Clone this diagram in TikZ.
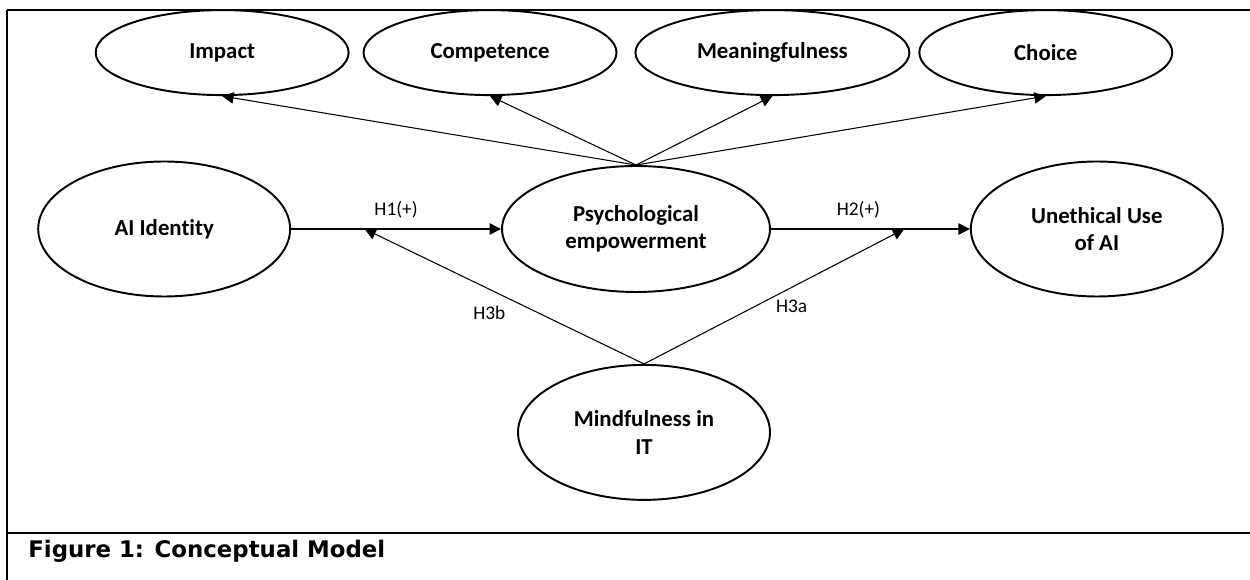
\documentclass[tikz,border=0pt]{standalone}
\usepackage{fontspec}
\setmainfont{Carlito}[Ligatures=NoCommon]
\newfontfamily\figcapfont{DejaVu Sans}
\usetikzlibrary{positioning,shapes.geometric,arrows.meta}

\begin{document}
\begin{tikzpicture}[x=0.02cm, y=-0.02cm,
        construct/.style={draw, ellipse, line width=1.1pt, inner sep=0pt, align=center,
            font=\bfseries\fontsize{13}{15.5}\selectfont, minimum width=5.04cm, minimum height=2.7cm},
        dimension/.style={construct, minimum width=5.06cm, minimum height=1.7cm},
        link/.style={->, line width=0.6pt},
        hyp/.style={font=\fontsize{11}{13}\selectfont, inner sep=0pt},
        >={Triangle[length=6.5pt,width=6.5pt]}]
        \useasboundingbox (0,0) rectangle (1250,580);

        % frame
        \draw[line width=1.1pt] (7,10) -- (7,580);
        \draw[line width=1.6pt] (7,10) -- (1250,10);
        \draw[line width=1.6pt] (7,533) -- (1250,533);

        \node[construct, minimum width=5.36cm, minimum height=2.52cm] (pe) at (636,229) {Psychological\\empowerment};
        \node[construct, left=4.2cm of pe] (ai) {AI Identity};
        \node[construct, right=3.98cm of pe] (ue) {Unethical Use\\of AI};
        \node[construct, below=1.42cm of pe, xshift=0.16cm] (mi) {Mindfulness in\\IT};

        % dimensions of empowerment
        \node[dimension, above=1.38cm of pe, xshift=-2.92cm] (co) {Competence};
        \node[dimension, left=0.26cm of co] (im) {Impact};
        \node[dimension, right=0.34cm of co, minimum width=5.48cm] (me) {Meaningfulness};
        \node[dimension, right=0.16cm of me] (ch) {Choice};

        \draw[link] (pe.north) -- (im.south);
        \draw[link] (pe.north) -- (co.south);
        \draw[link] (pe.north) -- (me.south);
        \draw[link] (pe.north) -- (ch.south);

        \draw[link] (ai) -- coordinate[pos=0.35] (m1) node[hyp, midway, above=0.2cm] {H1(+)} (pe);
        \draw[link] (pe) -- coordinate[pos=0.67] (m2) node[hyp, pos=0.44, above=0.2cm] {H2(+)} (ue);

        \draw[link] (mi.north) -- node[hyp, pos=0.38, anchor=east, xshift=-0.64cm] {H3b} (m1);
        \draw[link] (mi.north) -- node[hyp, pos=0.425, anchor=west, xshift=0.42cm] {H3a} (m2);

        \node[anchor=base west, inner sep=0pt, font=\figcapfont\bfseries\fontsize{13}{15}\selectfont] (cap) at (28,557) {Figure 1: Conceptual Model};
    \end{tikzpicture}
\end{document}
